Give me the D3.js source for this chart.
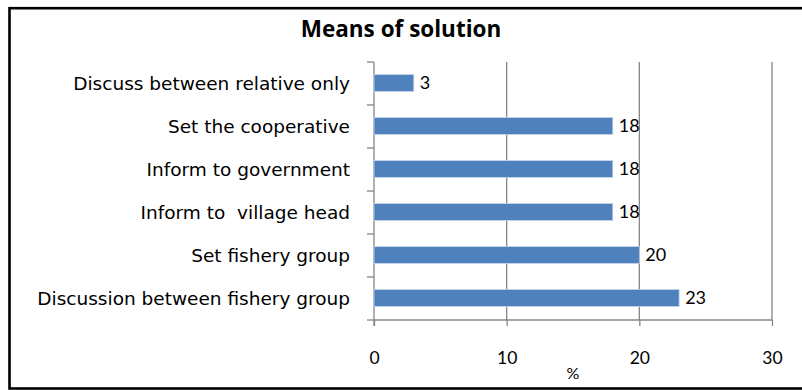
<!DOCTYPE html>
<html>
<head>
<meta charset="utf-8">
<script src="https://cdn.jsdelivr.net/npm/d3@7/dist/d3.min.js"></script>
<style>
  html, body { margin: 0; padding: 0; background: #fff; }
  svg { display: block; }
</style>
</head>
<body>
<svg id="chart" width="802" height="390"></svg>
<script>
// Means of solution (% of respondents), listed top to bottom
const categories = [
  "Discuss between relative only",
  "Set the cooperative",
  "Inform to government",
  "Inform to  village head",
  "Set fishery group",
  "Discussion between fishery group"
];
const values = [3, 18, 18, 18, 20, 23];
const xTicks = [0, 10, 20, 30];
const titleText = "Means of solution";
const xAxisTitle = "%";

const svg = d3.select("#chart");

// outer frame
svg.append("rect")
  .attr("x", 9.5).attr("y", 8.2)
  .attr("width", 900).attr("height", 380.3)
  .attr("fill", "#fff")
  .attr("stroke", "#000")
  .attr("stroke-width", 2.6);

const plot = { left: 374, right: 772, top: 62, bottom: 320 };

const x = d3.scaleLinear().domain([0, 30]).range([plot.left, plot.right]);
const y = d3.scaleBand().domain(categories).range([plot.top, plot.bottom]).padding(0);

const gridColor = "#868686";
const numFont = "Lato, 'Open Sans', sans-serif";
const titleFont = "'Open Sans', Lato, sans-serif";
const catFont = "'DejaVu Sans', Verdana, sans-serif";

// title
svg.append("text")
  .attr("x", 401).attr("y", 37)
  .attr("text-anchor", "middle")
  .attr("font-family", titleFont)
  .attr("font-weight", "bold")
  .attr("font-size", 22.5)
  .attr("fill", "#000")
  .text(titleText);

// vertical gridlines
svg.append("g")
  .selectAll("line")
  .data(xTicks.filter(d => d > 0))
  .join("line")
  .attr("x1", d => x(d)).attr("x2", d => x(d))
  .attr("y1", plot.top).attr("y2", plot.bottom)
  .attr("stroke", gridColor)
  .attr("stroke-width", 1.3);

// x axis (bottom)
const xAxis = d3.axisBottom(x)
  .tickValues(xTicks)
  .tickSize(6)
  .tickPadding(26)
  .tickFormat(d3.format("d"));

const gx = svg.append("g")
  .attr("transform", `translate(0,${plot.bottom})`)
  .call(xAxis);
gx.select(".domain").attr("stroke", gridColor).attr("stroke-width", 1.3)
  .attr("d", `M${plot.left},0H${plot.right}`);
gx.selectAll(".tick line").attr("stroke", gridColor).attr("stroke-width", 1.3);
gx.selectAll(".tick text")
  .attr("font-family", numFont)
  .attr("font-size", 17.5)
  .attr("fill", "#000");

// y axis (left) with ticks between categories
const gy = svg.append("g")
  .attr("transform", `translate(${plot.left},0)`);
gy.append("line")
  .attr("x1", 0).attr("x2", 0)
  .attr("y1", plot.top).attr("y2", plot.bottom + 6)
  .attr("stroke", gridColor).attr("stroke-width", 1.3);
const boundaries = categories.map(c => y(c)).concat([y.range()[1]]);
gy.selectAll("line.tk")
  .data(boundaries)
  .join("line")
  .attr("class", "tk")
  .attr("x1", -7).attr("x2", 0)
  .attr("y1", d => d).attr("y2", d => d)
  .attr("stroke", gridColor).attr("stroke-width", 1.3);

// category labels
svg.append("g")
  .selectAll("text")
  .data(categories)
  .join("text")
  .attr("x", 350)
  .attr("y", d => y(d) + y.bandwidth() / 2 + 1)
  .attr("text-anchor", "end")
  .attr("dominant-baseline", "middle")
  .attr("font-family", catFont)
  .attr("font-size", 18.5)
  .attr("fill", "#000")
  .style("white-space", "pre")
  .text(d => d);

// bars
const barH = 17;
svg.append("g")
  .selectAll("rect")
  .data(categories.map((c, i) => ({ c, v: values[i] })))
  .join("rect")
  .attr("x", x(0))
  .attr("y", d => y(d.c) + y.bandwidth() / 2 - barH / 2 - 0.5)
  .attr("width", d => x(d.v) - x(0))
  .attr("height", barH)
  .attr("fill", "#4F81BD")
  .attr("stroke", "#C6D5EA")
  .attr("stroke-width", 0.8);

// value labels
svg.append("g")
  .selectAll("text")
  .data(categories.map((c, i) => ({ c, v: values[i] })))
  .join("text")
  .attr("x", d => x(d.v) + 6)
  .attr("y", d => y(d.c) + y.bandwidth() / 2 + 1)
  .attr("dominant-baseline", "middle")
  .attr("font-family", numFont)
  .attr("font-size", 18)
  .attr("fill", "#000")
  .text(d => d.v);

// x axis title
svg.append("text")
  .attr("x", (plot.left + plot.right) / 2)
  .attr("y", 379)
  .attr("text-anchor", "middle")
  .attr("font-family", numFont)
  .attr("font-size", 16)
  .attr("fill", "#000")
  .text(xAxisTitle);
</script>
</body>
</html>
